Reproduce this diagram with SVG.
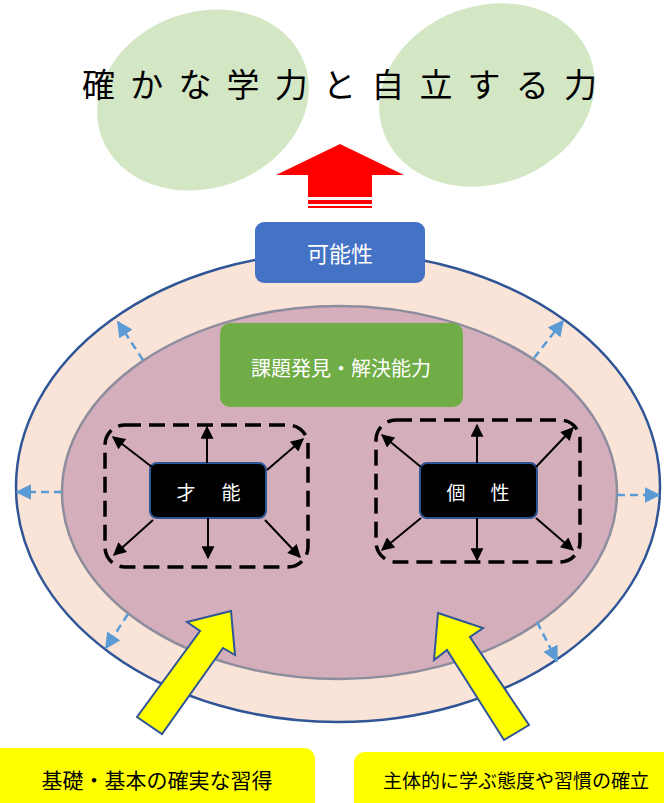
<svg xmlns="http://www.w3.org/2000/svg" width="664" height="803" viewBox="0 0 664 803">
<style>
text{font-family:"Noto Sans CJK JP","Noto Sans CJK SC",sans-serif;dominant-baseline:central;text-anchor:middle}
.w{fill:#fff}
.blk{fill:#000}
.dash{fill:none;stroke:#000;stroke-width:3.5;stroke-dasharray:16 8}
.ka{stroke:#000;stroke-width:2;marker-end:url(#ah)}
.ba{stroke:#5B9BD5;stroke-width:2.5;stroke-dasharray:8 5;marker-end:url(#bh)}
.ya{fill:#FFFF00;stroke:#2F5597;stroke-width:2;stroke-linejoin:miter}
.yb{fill:#FFFF00}
</style>
<defs>
<marker id="ah" viewBox="0 0 10 10" refX="9" refY="5" markerWidth="15" markerHeight="13" markerUnits="userSpaceOnUse" orient="auto"><path d="M0,0 L10,5 L0,10 z" fill="#000"/></marker>
<marker id="bh" viewBox="0 0 10 10" refX="9" refY="5" markerWidth="16" markerHeight="16" markerUnits="userSpaceOnUse" orient="auto"><path d="M0,0 L10,5 L0,10 z" fill="#5B9BD5"/></marker>
</defs>
<rect width="664" height="803" fill="#fff"/>
<g id="goal">
<ellipse cx="203" cy="100" rx="108" ry="88" transform="rotate(-20 203 100)" fill="#D4E7C5"/>
<ellipse cx="487" cy="95" rx="110" ry="89" transform="rotate(-20 487 95)" fill="#D4E7C5"/>
<text x="82" y="83" font-size="33" letter-spacing="15.2" style="text-anchor:start" fill="#000">確かな学力と自立する力</text>
</g>
<g id="red-arrow" fill="#FF0000">
<polygon points="340,144 404,175 372,175 372,197 308,197 308,175 276,175"/>
<rect x="308" y="200" width="64" height="4"/>
<rect x="308" y="206" width="64" height="2"/>
</g>
<g id="outer">
<ellipse cx="338" cy="487" rx="322" ry="235" fill="#FAE4D7" stroke="#2F5597" stroke-width="2.5"/>
</g>
<g id="inner">
<ellipse cx="339.5" cy="492.5" rx="277.5" ry="186.5" fill="#D5AEBB" stroke="#8E8D9E" stroke-width="2.5"/>
</g>
<g id="kanousei">
<rect x="255" y="222" width="170" height="61" rx="9" fill="#4472C4"/>
<text x="340" y="252" font-size="22" class="w">可能性</text>
</g>
<g id="kadai">
<rect x="220" y="323" width="243" height="84" rx="10" fill="#70AD47"/>
<text x="341" y="367" font-size="20" class="w">課題発見・解決能力</text>
</g>
<g id="sainou">
<rect x="105" y="425" width="203" height="142" rx="20" class="dash"/>
<rect x="150" y="463" width="116" height="55" rx="7" fill="#000" stroke="#2F5597" stroke-width="2"/>
<text y="491" font-size="19" class="w"><tspan x="186">才</tspan><tspan x="231">能</tspan></text>
</g>
<g id="kosei">
<rect x="376" y="420" width="204" height="142" rx="20" class="dash"/>
<rect x="420" y="463" width="117" height="55" rx="7" fill="#000" stroke="#2F5597" stroke-width="2"/>
<text y="491" font-size="19" class="w"><tspan x="456">個</tspan><tspan x="500">性</tspan></text>
</g>
<g id="connectors">
<line x1="207" y1="463" x2="207" y2="427" class="ka"/>
<line x1="208" y1="518" x2="208" y2="558" class="ka"/>
<line x1="152" y1="467" x2="113" y2="437" class="ka"/>
<line x1="267" y1="470" x2="303" y2="439" class="ka"/>
<line x1="153" y1="520" x2="114" y2="555" class="ka"/>
<line x1="265" y1="520" x2="300" y2="557" class="ka"/>
<line x1="477" y1="463" x2="477" y2="425" class="ka"/>
<line x1="477" y1="518" x2="477" y2="560" class="ka"/>
<line x1="421" y1="467" x2="382" y2="435" class="ka"/>
<line x1="536" y1="467" x2="573" y2="428" class="ka"/>
<line x1="421" y1="518" x2="382" y2="550" class="ka"/>
<line x1="536" y1="518" x2="573" y2="550" class="ka"/>
<line x1="143" y1="360" x2="118" y2="322" class="ba"/>
<line x1="62" y1="492" x2="17" y2="492" class="ba"/>
<line x1="534" y1="358" x2="563" y2="321" class="ba"/>
<line x1="617" y1="495" x2="659" y2="495" class="ba"/>
<line x1="128" y1="614" x2="106" y2="648" class="ba"/>
<line x1="537" y1="622" x2="557" y2="661" class="ba"/>
</g>
<g id="yellow-arrow-left">
<polygon class="ya" points="231,611 235,655 223,648 162,734 137,717 200,631 187,622"/>
</g>
<g id="yellow-arrow-right">
<polygon class="ya" points="438,613 483,628 470,637 529,725 504,740 447,650 434,660"/>
</g>
<g id="kiso">
<rect x="-12" y="748" width="327" height="70" rx="11" class="yb"/>
<text x="157" y="779" font-size="21" class="blk">基礎・基本の確実な習得</text>
</g>
<g id="shutai">
<rect x="354" y="752" width="325" height="66" rx="11" class="yb"/>
<text x="516" y="779" font-size="19" class="blk">主体的に学ぶ態度や習慣の確立</text>
</g>
</svg>
